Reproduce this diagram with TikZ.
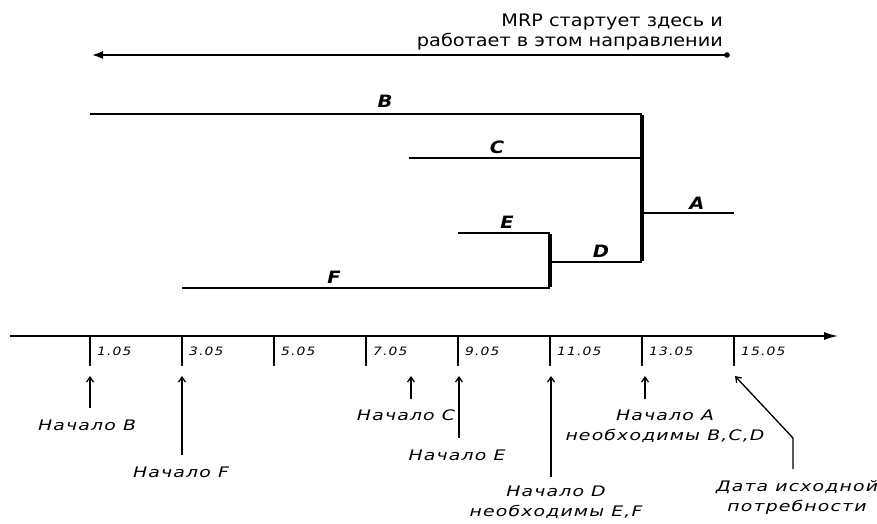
\documentclass[tikz,border=0pt]{standalone}
\usepackage{fontspec}
\setmainfont{DejaVu Sans}
\newfontfamily\lblfont{DejaVu Sans}[FakeStretch=1.3,LetterSpace=8]
\newfontfamily\datefont{DejaVu Sans}[FakeStretch=1.2,LetterSpace=10]
\newfontfamily\letfont{DejaVu Sans}[FakeStretch=1.15]
\newfontfamily\topfont{DejaVu Sans}[FakeStretch=1.12]
\usetikzlibrary{arrows.meta}
\begin{document}
\begin{tikzpicture}[x=1pt,y=-1pt,
  bar/.style={line width=2.2pt},
  joinbar/.style={line width=3.2pt},
  tickline/.style={line width=1.6pt},
  lbl/.style={font=\lblfont\itshape\fontsize{14.5}{20}\selectfont, align=center, inner sep=0pt},
  datelbl/.style={font=\datefont\itshape\fontsize{11.5}{14}\selectfont, anchor=west, inner sep=0pt},
  letter/.style={font=\letfont\bfseries\itshape\fontsize{17}{18}\selectfont, inner sep=0pt},
  uparrow/.style={-{Straight Barb[length=5pt,width=7pt]}, line width=1.3pt},
  toptext/.style={font=\topfont\fontsize{17.2}{20}\selectfont, align=right, inner sep=0pt}
]
\useasboundingbox (0,0) rectangle (877,524);

% top direction arrow
\node[toptext, anchor=base east] (mrp) at (723,47) {MRP стартует здесь и\\работает в этом направлении};
\coordinate (tstart) at (727,55);
\coordinate (tend) at (92,55);
\fill (tstart) circle (2.8pt);
\draw[line width=1.6pt, -{Latex[length=11pt,width=8pt]}] (tstart) -- (tend);

% product structure
\coordinate (Bs) at (90,114);  \coordinate (Be) at (642,114);
\coordinate (Cs) at (409,158); \coordinate (Ce) at (642,158);
\coordinate (Aj) at (642,213); \coordinate (Ae) at (734,213);
\coordinate (Es) at (458,233); \coordinate (Ee) at (550,233);
\coordinate (Ds) at (550,262); \coordinate (De) at (642,262);
\coordinate (Fs) at (182,288); \coordinate (Fe) at (550,288);

\draw[bar] (Bs) -- (Be);
\draw[bar] (Cs) -- (Ce);
\draw[bar] (Aj) -- (Ae);
\draw[bar] (Es) -- (Ee);
\draw[bar] (Ds) -- (De);
\draw[bar] (Fs) -- (Fe);
\draw[joinbar] ([yshift=-1pt]Be) -- ([yshift=1pt]De);
\draw[joinbar] ([yshift=-1pt]Ee) -- ([yshift=1pt]Fe);

\node[letter] (lB) at (385,101) {B};
\node[letter] (lC) at (497,147) {C};
\node[letter] (lA) at (697,203) {A};
\node[letter] (lE) at (507,222) {E};
\node[letter] (lD) at (601,251) {D};
\node[letter] (lF) at (334,277) {F};

% time axis
\coordinate (axs) at (10,336);
\coordinate (axe) at (838,336);
\draw[line width=1.3pt, -{Latex[length=14pt,width=8pt]}] (axs) -- (axe);
\foreach \i/\d in {0/1.05,1/3.05,2/5.05,3/7.05,4/9.05,5/11.05,6/13.05,7/15.05}{
  \coordinate (t\i) at (90+92*\i,336);
  \draw[tickline] (t\i) -- ++(0,30);
  \node[datelbl] (d\i) at (97+92*\i,351) {\d};
}

% labels below
\node[lbl] (nB) at (87,425) {Начало B};
\node[lbl] (nF) at (181,472) {Начало F};
\node[lbl] (nC) at (406,415) {Начало C};
\node[lbl] (nE) at (457,455) {Начало E};
\node[lbl] (nD) at (556,502) {Начало D\\необходимы E,F};
\node[lbl] (nA) at (665,426) {Начало A\\необходимы B,C,D};
\node[lbl] (nDt) at (797,497) {Дата исходной\\потребности};

\coordinate (aB1) at (90,408);  \coordinate (aB2) at (90,376);
\coordinate (aF1) at (182,455); \coordinate (aF2) at (182,376);
\coordinate (aC1) at (411,399); \coordinate (aC2) at (411,376);
\coordinate (aE1) at (459,438); \coordinate (aE2) at (459,376);
\coordinate (aD1) at (551,477); \coordinate (aD2) at (551,376);
\coordinate (aA1) at (645,399); \coordinate (aA2) at (645,376);
\coordinate (aT1) at (793,469); \coordinate (aTk) at (793,438); \coordinate (aT2) at (735,376);

\draw[uparrow] (aB1) -- (aB2);
\draw[uparrow] (aF1) -- (aF2);
\draw[uparrow] (aC1) -- (aC2);
\draw[uparrow] (aE1) -- (aE2);
\draw[uparrow] (aD1) -- (aD2);
\draw[uparrow] (aA1) -- (aA2);
\draw[uparrow] (aT1) -- (aTk) -- (aT2);
\end{tikzpicture}
\end{document}
